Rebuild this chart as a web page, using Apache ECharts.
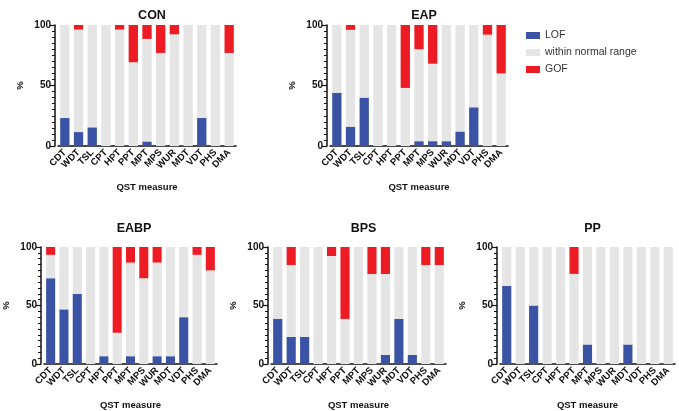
<!DOCTYPE html>
<html><head><meta charset="utf-8">
<script src="https://cdn.jsdelivr.net/npm/echarts@6/dist/echarts.min.js"></script>
<style>html,body{margin:0;padding:0;background:#fff}#c{width:679px;height:411px}</style>
</head><body><div id="c"></div>
<script>
var categories = ['CDT','WDT','TSL','CPT','HPT','PPT','MPT','MPS','WUR','MDT','VDT','PHS','DMA'];
var yTicks = [0, 50, 100];
var panelNames = ['CON','EAP','EABP','BPS','PP'];

var conLOF    = [23.1, 11.5, 15.4, 0, 0, 0, 3.8, 0, 0, 0, 23.1, 0, 0];
var conNormal = [76.9, 84.7, 84.6, 100, 96.2, 69.2, 84.7, 76.9, 92.3, 100, 76.9, 100, 76.9];
var conGOF    = [0, 3.8, 0, 0, 3.8, 30.8, 11.5, 23.1, 7.7, 0, 0, 0, 23.1];

var eapLOF    = [44, 16, 40, 0, 0, 0, 4, 4, 4, 12, 32, 0, 0];
var eapNormal = [56, 80, 60, 100, 100, 48, 76, 64, 96, 88, 68, 92, 60];
var eapGOF    = [0, 4, 0, 0, 0, 52, 20, 32, 0, 0, 0, 8, 40];

var eabpLOF    = [73.3, 46.7, 60, 0, 6.7, 0, 6.7, 0, 6.7, 6.7, 40, 0, 0];
var eabpNormal = [20, 53.3, 40, 100, 93.3, 26.7, 80, 73.3, 80, 93.3, 60, 93.3, 80];
var eabpGOF    = [6.7, 0, 0, 0, 0, 73.3, 13.3, 26.7, 13.3, 0, 0, 6.7, 20];

var bpsLOF    = [38.5, 23.1, 23.1, 0, 0, 0, 0, 0, 7.7, 38.5, 7.7, 0, 0];
var bpsNormal = [61.5, 61.5, 76.9, 100, 92.3, 38.5, 100, 76.9, 69.2, 61.5, 92.3, 84.6, 84.6];
var bpsGOF    = [0, 15.4, 0, 0, 7.7, 61.5, 0, 23.1, 23.1, 0, 0, 15.4, 15.4];

var ppLOF    = [66.7, 0, 50, 0, 0, 0, 16.7, 0, 0, 16.7, 0, 0, 0];
var ppNormal = [33.3, 100, 50, 100, 100, 77, 83.3, 100, 100, 83.3, 100, 100, 100];
var ppGOF    = [0, 0, 0, 0, 0, 23, 0, 0, 0, 0, 0, 0, 0];

var panelData = [
  [conLOF, conNormal, conGOF],
  [eapLOF, eapNormal, eapGOF],
  [eabpLOF, eabpNormal, eabpGOF],
  [bpsLOF, bpsNormal, bpsGOF],
  [ppLOF, ppNormal, ppGOF]
];

var grids = [
  {left: 58, top: 25, width: 178, height: 121},
  {left: 330, top: 25, width: 178, height: 121},
  {left: 41, top: 247, width: 176, height: 119},
  {left: 271, top: 247, width: 175, height: 119},
  {left: 500, top: 247, width: 175, height: 119}
];
var titleTops = [4, 4, 217, 217, 217];
var colors = ['#3a53a4', '#e5e5e5', '#ed1c24'];
var seriesNames = ['LOF', 'within normal range', 'GOF'];
var FONT = 'Liberation Sans, Arial, sans-serif';

var xAxes = [], yAxes = [], series = [], titles = [];
grids.forEach(function (g, i) {
  titles.push({
    text: panelNames[i], left: g.left + g.width / 2, top: titleTops[i], textAlign: 'center',
    textStyle: {fontFamily: FONT, fontSize: 12.5, fontWeight: 'bold', color: '#111'}
  });
  xAxes.push({
    type: 'category', gridIndex: i, data: categories,
    name: 'QST measure', nameLocation: 'middle', nameGap: 36,
    nameTextStyle: {fontFamily: FONT, fontSize: 9.5, fontWeight: 'bold', color: '#111'},
    axisLine: {lineStyle: {color: '#111', width: 1.5}},
    axisTick: {alignWithLabel: true, length: 4, lineStyle: {color: '#111', width: 1.2}},
    axisLabel: {rotate: 45, interval: 0, margin: 5, fontFamily: FONT, fontSize: 9.5, fontWeight: 'bold', color: '#111'}
  });
  yAxes.push({
    type: 'value', gridIndex: i, min: yTicks[0], max: yTicks[yTicks.length - 1], interval: 50, offset: 3,
    name: '%', nameLocation: 'middle', nameGap: 30, nameRotate: 90,
    nameTextStyle: {fontFamily: FONT, fontSize: 9.5, fontWeight: 'bold', color: '#111'},
    axisLine: {show: true, lineStyle: {color: '#111', width: 1.5}},
    axisTick: {show: true, length: 5, lineStyle: {color: '#111', width: 1.2}},
    splitLine: {show: false},
    axisLabel: {margin: 4, fontFamily: FONT, fontSize: 10, fontWeight: 'bold', color: '#111'}
  });
  // minor tick overlay axis
  yAxes.push({
    type: 'value', gridIndex: i, min: 0, max: 100, interval: 5, offset: 3, position: 'left',
    axisLine: {show: false}, axisLabel: {show: false}, splitLine: {show: false},
    axisTick: {show: true, length: 3, lineStyle: {color: '#111', width: 1}}
  });
  panelData[i].forEach(function (arr, k) {
    series.push({
      type: 'bar', name: seriesNames[k], xAxisIndex: i, yAxisIndex: i * 2, stack: 'p' + i,
      data: arr, barWidth: '68%', itemStyle: {color: colors[k]}, animation: false
    });
  });
});

var chart = echarts.init(document.getElementById('c'), null, {renderer: 'canvas'});
chart.setOption({
  animation: false,
  title: titles,
  legend: {
    data: seriesNames, orient: 'vertical', left: 521, top: 25, itemWidth: 14, itemHeight: 7, itemGap: 6,
    icon: 'rect', selectedMode: false,
    textStyle: {fontFamily: FONT, fontSize: 10.5, color: '#333'}
  },
  grid: grids,
  xAxis: xAxes,
  yAxis: yAxes,
  series: series
});
</script></body></html>
